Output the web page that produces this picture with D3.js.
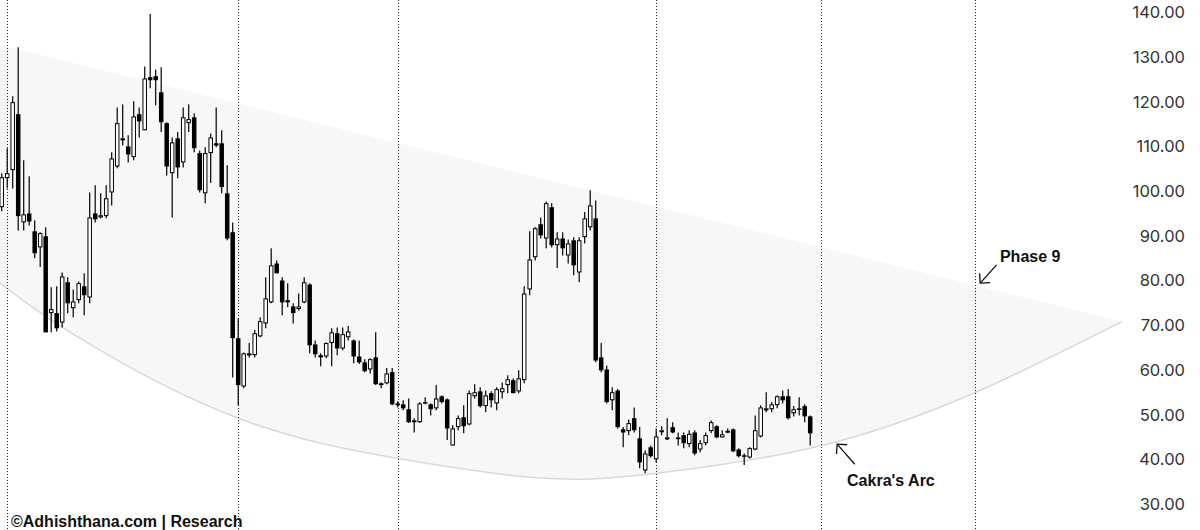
<!DOCTYPE html>
<html lang="en">
<head>
<meta charset="UTF-8">
<title>Cakra's Arc - Phase 9</title>
<script src="https://cdn.jsdelivr.net/npm/d3@7"></script>
<style>
    body { margin: 0; background: #fff; }
    svg { display: block; }
    .ytick text { font-family: "Inter", "Liberation Sans", sans-serif; font-size: 16.5px; fill: #333; }
    .note { font-family: "Liberation Sans", Arial, sans-serif; font-weight: bold; font-size: 16px; fill: #111; }
</style>
</head>
<body>
<div id="chart"></div>
<script>
// weekly candles
var opens = [96.4,102.9,104.7,117.2,93.0,95.0,91.0,87.4,89.9,72.7,72.7,70.6,79.6,73.8,75.6,78.7,76.2,95.0,94.1,94.4,
    99.7,105.5,111.4,110.0,107.6,117.2,113.6,125.5,125.7,122.1,115.2,104.0,111.8,106.4,115.2,116.5,108.5,99.5,108.5,110.7,
    110.7,99.5,90.8,67.1,56.3,63.3,63.3,67.5,70.4,75.1,83.8,80.0,75.6,74.2,73.6,75.1,79.1,65.7,63.3,63.0,
    66.0,68.2,64.8,67.3,66.6,63.0,61.7,60.1,62.8,57.0,57.0,59.5,52.5,52.3,51.2,48.7,48.3,52.8,52.3,51.4,
    54.1,53.4,43.1,47.2,49.4,47.8,54.1,55.2,51.9,54.8,52.5,55.0,56.6,57.7,55.2,57.7,78.0,85.2,92.6,89.4,
    96.4,87.9,89.4,85.6,89.0,81.8,89.7,91.9,93.9,62.8,60.1,53.2,55.4,46.7,46.3,49.2,44.7,37.5,42.7,40.0,
    46.3,44.8,47.2,44.9,45.4,43.4,46.0,42.2,43.6,46.3,47.4,44.9,46.3,46.7,42.2,40.9,40.4,42.2,45.1,51.2,
    51.2,52.1,54.1,54.1,50.3,51.4,51.9,49.6];
var highs = [104.0,109.6,121.2,132.2,106.9,103.3,93.5,90.8,91.9,78.5,78.7,81.8,80.7,78.0,79.8,81.6,99.7,101.3,99.5,101.3,
    108.7,118.7,119.4,112.5,120.1,118.7,127.9,139.6,127.2,127.7,115.4,112.0,113.2,118.7,119.4,117.4,109.1,109.8,112.9,118.7,
    113.6,105.8,93.0,71.5,63.9,66.0,68.9,71.8,80.7,87.2,84.5,80.7,79.4,74.9,77.1,80.7,79.4,66.6,63.7,66.2,
    69.3,69.5,69.5,69.8,66.8,66.6,62.4,62.6,68.4,57.2,60.4,60.4,53.0,53.2,53.6,49.2,52.8,53.9,52.5,56.6,
    54.3,53.6,47.6,49.8,52.1,55.4,56.8,56.1,55.4,55.2,56.1,57.2,58.8,58.1,59.9,78.7,91.0,91.9,94.1,97.7,
    97.3,90.8,90.8,89.2,89.7,89.7,95.3,100.2,97.9,66.0,61.0,56.1,55.7,47.2,48.9,51.6,47.2,42.0,43.1,46.9,
    47.4,49.2,48.3,46.0,46.0,46.5,46.5,44.3,46.0,48.7,47.6,46.5,46.9,46.9,42.5,41.3,42.7,49.8,52.1,55.0,
    52.8,54.3,55.4,55.7,51.9,53.9,52.3,49.8];
var lows = [95.5,100.6,100.6,91.2,91.2,92.3,85.0,83.0,68.4,68.4,68.6,69.5,72.7,71.8,74.9,72.2,74.9,93.0,93.9,93.9,
    96.8,105.1,110.2,106.4,106.9,112.0,113.6,123.0,119.2,113.2,103.5,94.1,102.9,105.3,113.2,108.7,99.7,97.3,101.8,109.8,
    99.5,89.0,58.3,52.1,55.9,62.8,62.8,67.3,69.3,74.9,81.6,72.2,74.0,70.4,73.3,74.9,63.7,62.8,60.8,62.6,
    60.8,63.3,64.4,66.6,61.5,61.3,59.5,59.2,56.6,55.9,56.8,52.1,51.6,51.0,48.1,46.0,48.1,52.3,49.8,51.0,
    52.5,44.3,43.1,46.5,45.8,47.6,53.6,51.6,50.5,51.6,51.0,53.6,54.8,54.8,54.8,57.0,76.7,84.5,89.4,87.2,
    87.4,82.8,85.6,83.8,81.2,79.6,88.3,91.2,61.7,59.5,52.5,51.0,46.9,42.7,45.4,46.0,38.0,36.9,40.4,39.3,
    45.4,44.3,45.8,43.1,42.5,42.7,40.9,41.6,43.1,45.8,44.7,44.9,45.8,41.6,40.4,38.7,40.2,42.0,44.9,50.5,
    50.5,51.4,52.5,48.9,49.6,49.8,48.3,43.1];
var closes = [103.1,104.0,119.9,94.4,94.8,93.2,86.1,90.6,68.4,73.6,69.3,80.9,74.9,75.3,79.4,76.7,94.1,93.7,94.6,98.4,
    107.3,115.2,111.8,108.2,116.7,115.6,125.2,124.8,124.8,115.4,105.5,110.9,105.3,116.5,116.1,109.6,100.2,108.5,112.0,110.2,
    100.9,89.4,67.1,56.6,63.7,63.7,68.2,70.9,76.0,83.4,81.6,75.1,75.1,72.7,74.2,79.6,65.5,63.5,62.8,66.0,
    68.4,64.8,68.0,68.6,63.0,61.7,59.7,62.4,56.8,56.6,59.2,52.3,52.1,51.4,48.3,48.3,52.5,52.7,51.2,53.6,
    52.8,46.9,46.9,49.2,47.4,54.8,55.0,51.9,54.3,53.2,55.7,55.9,57.9,54.8,58.1,77.1,84.7,91.7,90.1,97.3,
    87.9,89.4,87.2,88.3,83.4,89.0,93.9,96.8,62.1,59.9,52.8,55.0,47.2,46.0,48.1,46.5,39.3,41.3,40.7,45.1,
    46.5,44.9,46.0,44.5,43.6,45.7,41.3,43.6,45.4,48.3,44.9,45.6,46.4,41.8,40.7,40.7,42.5,46.5,51.6,51.4,
    52.3,54.1,53.2,49.2,51.2,51.2,49.6,45.8];

// phase boundaries (candle index)
var phaseLines = [1, 43, 72, 119, 149, 177];
var yTicks = [30, 40, 50, 60, 70, 80, 90, 100, 110, 120, 130, 140];

// Cakra's Arc band, [candle index, price]
var bandTop = [[-2, 133.2], [203.7, 70.8]];
var arcLow = [[-2, 81.0], [14.2, 67.1], [43.0, 49.2], [72.4, 40.1], [97.9, 35.8], [119.1, 36.9],
    [149.1, 43.1], [177.1, 55.0], [203.7, 70.8]];

// annotations: text anchor, arrow tail, arrow tip
var notes = [
    { label: "Phase 9", text: [181.5, 84.1], from: [180.9, 83.5], to: [177.9, 79.4] },
    { label: "Cakra's Arc", text: [153.7, 34.0], from: [155.1, 38.9], to: [151.9, 43.4] }
];

var width = 1200, height = 530;

var svg = d3.select("#chart").append("svg")
    .attr("width", width)
    .attr("height", height);

var x = d3.scaleLinear().domain([0, opens.length - 1]).range([1.7, 810.2]);
var y = d3.scaleLinear().domain([30, 140]).range([504, 12.3]);

// band
var lowLine = d3.line()
    .x(function (d) { return x(d[0]); })
    .y(function (d) { return y(d[1]); })
    .curve(d3.curveNatural);

var bandPath = lowLine(arcLow) +
    "L" + x(bandTop[1][0]) + "," + y(bandTop[1][1]) +
    "L" + x(bandTop[0][0]) + "," + y(bandTop[0][1]) + "Z";

svg.append("path")
    .attr("d", bandPath)
    .attr("fill", "#f7f7f7");

svg.append("path")
    .attr("d", lowLine(arcLow))
    .attr("fill", "none")
    .attr("stroke", "#d9d9d9")
    .attr("stroke-width", 1.5);

// phase lines
svg.selectAll(".phase")
    .data(phaseLines)
    .enter()
    .append("line")
    .attr("class", "phase")
    .attr("x1", function (d) { return Math.round(x(d)) + 0.5; })
    .attr("x2", function (d) { return Math.round(x(d)) + 0.5; })
    .attr("y1", 0)
    .attr("y2", height)
    .attr("stroke", "#222")
    .attr("stroke-width", 1)
    .attr("stroke-dasharray", "1,2");

// candles
var candles = opens.map(function (o, i) {
    return { i: i, o: o, h: highs[i], l: lows[i], c: closes[i] };
});

var bodyW = 4.5;

var g = svg.selectAll(".candle")
    .data(candles)
    .enter()
    .append("g")
    .attr("class", "candle");

g.append("line")
    .attr("x1", function (d) { return x(d.i); })
    .attr("x2", function (d) { return x(d.i); })
    .attr("y1", function (d) { return y(d.h); })
    .attr("y2", function (d) { return y(d.l); })
    .attr("stroke", "#000")
    .attr("stroke-width", 1.2);

g.append("rect")
    .attr("x", function (d) { return d.c >= d.o ? x(d.i) - bodyW / 2 + 0.5 : x(d.i) - bodyW / 2; })
    .attr("width", function (d) { return d.c >= d.o ? bodyW - 1 : bodyW; })
    .attr("y", function (d) {
        var top = y(Math.max(d.o, d.c));
        return d.c >= d.o ? top + 0.5 : top;
    })
    .attr("height", function (d) {
        var h = Math.abs(y(d.o) - y(d.c));
        return d.c >= d.o ? Math.max(h - 1, 1) : Math.max(h, 1.5);
    })
    .attr("fill", function (d) { return d.c >= d.o ? "#fff" : "#000"; })
    .attr("stroke", "#000")
    .attr("stroke-width", function (d) { return d.c >= d.o ? 1 : 0; });

// price scale on the right
svg.selectAll(".ytick")
    .data(yTicks)
    .enter()
    .append("g")
    .attr("class", "ytick")
    .append("text")
    .attr("x", 1185)
    .attr("y", function (d) { return y(d); })
    .attr("dy", "0.36em")
    .attr("text-anchor", "end")
    .text(function (d) { return d3.format(".2f")(d); });

// annotations
function arrowHead(n) {
    var x1 = x(n.from[0]), y1 = y(n.from[1]), x2 = x(n.to[0]), y2 = y(n.to[1]);
    var a = Math.atan2(y1 - y2, x1 - x2), len = 10;
    return "M" + (x2 + len * Math.cos(a - 0.785)) + "," + (y2 + len * Math.sin(a - 0.785)) +
        "L" + x2 + "," + y2 +
        "L" + (x2 + len * Math.cos(a + 0.785)) + "," + (y2 + len * Math.sin(a + 0.785));
}

var ann = svg.selectAll(".ann")
    .data(notes)
    .enter()
    .append("g")
    .attr("class", "ann");

ann.append("line")
    .attr("x1", function (d) { return x(d.from[0]); })
    .attr("y1", function (d) { return y(d.from[1]); })
    .attr("x2", function (d) { return x(d.to[0]); })
    .attr("y2", function (d) { return y(d.to[1]); })
    .attr("stroke", "#111")
    .attr("stroke-width", 1.3);

ann.append("path")
    .attr("d", arrowHead)
    .attr("fill", "none")
    .attr("stroke", "#111")
    .attr("stroke-width", 1.3);

ann.append("text")
    .attr("class", "note")
    .attr("x", function (d) { return x(d.text[0]); })
    .attr("y", function (d) { return y(d.text[1]); })
    .text(function (d) { return d.label; });

svg.append("text")
    .attr("class", "note")
    .attr("x", 11)
    .attr("y", 527)
    .text("©Adhishthana.com | Research");
</script>
</body>
</html>
